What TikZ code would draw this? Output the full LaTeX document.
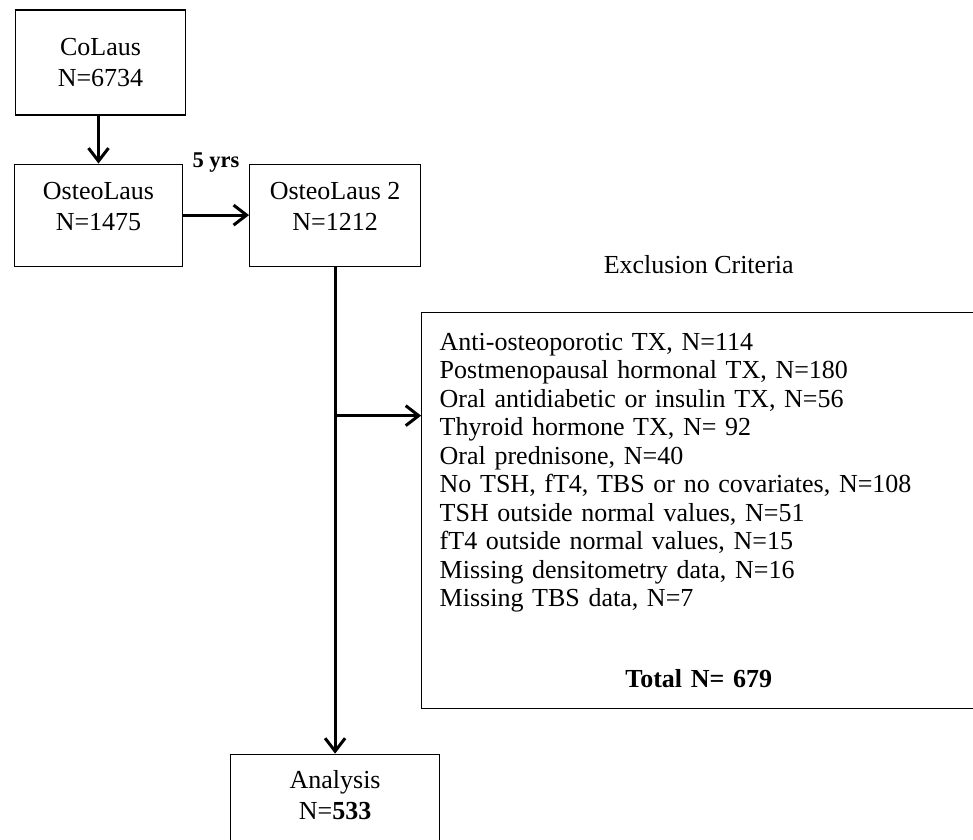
\documentclass[tikz,border=0pt]{standalone}
\usepackage{fontspec}
\setmainfont{Liberation Serif}
\usetikzlibrary{positioning,arrows.meta}

\begin{document}
\begin{tikzpicture}[
    x=1pt, y=-1pt,
    stage/.style={rectangle, draw, line width=1.1pt, inner sep=0pt,
                  minimum width=170pt, minimum height=102pt, align=center,
                  font=\fontsize{26}{31}\selectfont},
    listbox/.style={rectangle, draw, line width=1.1pt, inner xsep=18pt, inner ysep=0pt,
                  text width=518pt, minimum height=396pt, align=left,
                  font=\fontsize{26}{28.5}\selectfont},
    flow/.style={line width=3pt, -{Straight Barb[length=13pt,width=20pt]}}
  ]
  \useasboundingbox (0,0) rectangle (973,839);
  \clip (0,0) rectangle (973,839);

  % study waves
  \node[stage, minimum height=105pt] (colaus) at (100.5,62.5) {CoLaus\\N=6734};
  \node[stage, minimum width=168pt, below=48pt of colaus, xshift=-2pt] (osteo) {OsteoLaus\\N=1475\rule[-17pt]{0pt}{17pt}};
  \node[stage, minimum width=171pt, right=66pt of osteo] (osteotwo) {OsteoLaus 2\\N=1212\rule[-17pt]{0pt}{17pt}};
  \node[stage, minimum width=209pt, below=487pt of osteotwo] (analysis) {Analysis\\N=\textbf{533}\rule[-21pt]{0pt}{21pt}};

  % exclusions
  \node[listbox, below right=45pt and 0pt of osteotwo.south east] (excl) {
    Anti-osteoporotic TX, N=114\\
    Postmenopausal hormonal TX, N=180\\
    Oral antidiabetic or insulin TX, N=56\\
    Thyroid hormone TX, N= 92\\
    Oral prednisone, N=40\\
    No TSH, fT4, TBS or no covariates, N=108\\
    TSH outside normal values, N=51\\
    fT4 outside normal values, N=15\\
    Missing densitometry data, N=16\\
    Missing TBS data, N=7\\[52pt]
    \hspace*{\fill}\textbf{Total N= 679}\hspace*{\fill}
  };
  \node[inner sep=0pt, font=\fontsize{26}{31}\selectfont, above=38pt of excl] (excltitle) {Exclusion Criteria};

  \coordinate (split) at ([yshift=-149pt]osteotwo.south);

  \draw[flow] (colaus.south -| osteo.north) -- (osteo);
  \draw[flow] (osteo) -- node[midway, above=41pt, inner sep=0pt, font=\fontsize{22.5}{27}\selectfont\bfseries] (fiveyrs) {5 yrs} (osteotwo);
  \draw[flow] (osteotwo) -- (analysis);
  \draw[flow] (split) -- (split -| excl.west);
\end{tikzpicture}
\end{document}
